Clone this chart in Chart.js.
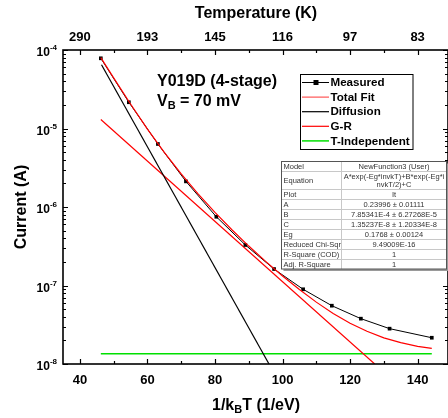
<!DOCTYPE html>
<html>
<head>
  <meta charset="UTF-8">
  <title>Y019D current vs 1/kT</title>
  <script src="https://cdn.jsdelivr.net/npm/chart.js"></script>
  <style>
    html, body {
      margin: 0;
      padding: 0;
      overflow: hidden;
      background: #fff;
    }
    #chart-container {
      position: relative;
      width: 452px;
      height: 418px;
    }
  </style>
</head>
<body>
  <div id="chart-container">
    <canvas id="myChart"></canvas>
  </div>
  <script>
    // valeurs (x = 1/kT en 1/eV, y = courant en A)
    const invKT = [46.2, 54.5, 63.1, 71.4, 80.4, 89.0, 97.5, 106.1, 114.6, 123.2, 131.7, 144.2];
    const measured = [7.84e-5, 2.16e-5, 6.35e-6, 2.12e-6, 7.51e-7, 3.28e-7, 1.62e-7, 8.95e-8, 5.53e-8, 3.78e-8, 2.82e-8, 2.16e-8];

    const fitX = [46.2, 50, 55, 60, 65, 70, 75, 80, 85, 90, 95, 100, 105, 110, 115, 120, 125, 130, 135, 140, 144.2];
    const totalFit = [8.0e-5, 4.42e-5, 2.05e-5, 9.84e-6, 4.96e-6, 2.64e-6, 1.47e-6, 8.53e-7, 5.13e-7, 3.18e-7, 2.03e-7,
                      1.32e-7, 8.87e-8, 6.14e-8, 4.41e-8, 3.31e-8, 2.61e-8, 2.15e-8, 1.87e-8, 1.68e-8, 1.58e-8];

    const diffX = [46.4, 96.0];
    const diffusion = [6.5e-5, 1.0e-8];
    const grX = [46.2, 127.3];
    const gr = [1.3e-5, 1.0e-8];
    const tIndX = [46.2, 144.2];
    const tInd = [1.35e-8, 1.35e-8];

    const xTicks = [40, 60, 80, 100, 120, 140];
    const xMinor = [50, 70, 90, 110, 130];
    const tempLabels = ['290', '193', '145', '116', '97', '83'];
    const yDecades = [-8, -7, -6, -5, -4];

    const tableRows = [
      ['Model', ['NewFunction3 (User)']],
      ['Equation', ['A*exp(-Eg*invkT)+B*exp(-Eg*i', 'nvkT/2)+C']],
      ['Plot', ['It']],
      ['A', ['0.23996 \u00b1 0.01111']],
      ['B', ['7.85341E-4 \u00b1 6.27268E-5']],
      ['C', ['1.35237E-8 \u00b1 1.20334E-8']],
      ['Eg', ['0.1768 \u00b1 0.00124']],
      ['Reduced Chi-Sqr', ['9.49009E-16']],
      ['R-Square (COD)', ['1']],
      ['Adj. R-Square', ['1']]
    ];

    const pts = (xs, ys) => xs.map((v, i) => ({ x: v, y: ys[i] }));
    const FONT = '"Liberation Sans", Arial, sans-serif';

    function texteSub(ctx, parts, x, y, align) {
      // parts: [texte, taille, decalage]
      let w = 0;
      parts.forEach(p => { ctx.font = 'bold ' + p[1] + 'px ' + FONT; w += ctx.measureText(p[0]).width; });
      let cx = align === 'center' ? x - w / 2 : (align === 'right' ? x - w : x);
      parts.forEach(p => {
        ctx.font = 'bold ' + p[1] + 'px ' + FONT;
        ctx.textAlign = 'left';
        ctx.fillText(p[0], cx, y + p[2]);
        cx += ctx.measureText(p[0]).width;
      });
    }

    const decor = {
      id: 'decor',
      afterDraw(chart) {
        const { ctx, chartArea: a, scales: { x, y } } = chart;
        ctx.save();
        ctx.strokeStyle = '#000';
        ctx.fillStyle = '#000';

        // cadre
        ctx.lineWidth = 1.6;
        ctx.strokeRect(a.left, a.top, a.right - a.left, a.bottom - a.top);

        // graduations x (haut et bas, vers l'intérieur)
        ctx.lineWidth = 1.2;
        ctx.beginPath();
        xTicks.forEach(v => {
          const px = Math.round(x.getPixelForValue(v)) + 0.5;
          ctx.moveTo(px, a.bottom); ctx.lineTo(px, a.bottom - 5);
          ctx.moveTo(px, a.top); ctx.lineTo(px, a.top + 5);
        });
        xMinor.forEach(v => {
          const px = Math.round(x.getPixelForValue(v)) + 0.5;
          ctx.moveTo(px, a.bottom); ctx.lineTo(px, a.bottom - 3);
          ctx.moveTo(px, a.top); ctx.lineTo(px, a.top + 3);
        });
        // graduations y (log)
        yDecades.forEach(e => {
          const py = Math.round(y.getPixelForValue(Math.pow(10, e))) + 0.5;
          ctx.moveTo(a.left, py); ctx.lineTo(a.left + 5, py);
          ctx.moveTo(a.right, py); ctx.lineTo(a.right - 5, py);
          if (e < -4) {
            for (let m = 2; m <= 9; m++) {
              const pm = Math.round(y.getPixelForValue(m * Math.pow(10, e))) + 0.5;
              ctx.moveTo(a.left, pm); ctx.lineTo(a.left + 3, pm);
              ctx.moveTo(a.right, pm); ctx.lineTo(a.right - 3, pm);
            }
          }
        });
        ctx.stroke();

        // étiquettes
        ctx.textBaseline = 'alphabetic';
        ctx.font = 'bold 13px ' + FONT;
        ctx.textAlign = 'center';
        xTicks.forEach((v, i) => {
          const px = x.getPixelForValue(v);
          ctx.fillText(String(v), px, a.bottom + 20);
          ctx.fillText(tempLabels[i], px, a.top - 9);
        });
        yDecades.forEach(e => {
          const py = y.getPixelForValue(Math.pow(10, e));
          texteSub(ctx, [['10', 12, 0], [String(e), 8, -6]], a.left - 6, py + 6, 'right');
        });

        // titres des axes
        texteSub(ctx, [['1/k', 16, 0], ['B', 11, 3], ['T (1/eV)', 16, 0]], (a.left + 449) / 2, 410, 'center');
        ctx.font = 'bold 16px ' + FONT;
        ctx.textAlign = 'center';
        ctx.fillText('Temperature (K)', (a.left + 449) / 2, 18);
        ctx.save();
        ctx.translate(26, (a.top + a.bottom) / 2);
        ctx.rotate(-Math.PI / 2);
        ctx.fillText('Current (A)', 0, 0);
        ctx.restore();

        // annotation
        ctx.textAlign = 'left';
        ctx.font = 'bold 16px ' + FONT;
        ctx.fillText('Y019D (4-stage)', 157, 86);
        texteSub(ctx, [['V', 16, 0], ['B', 11, 3], [' = 70 mV', 16, 0]], 157, 106, 'left');

        // légende
        const lg = { l: 300.5, t: 74.5, w: 112.5, h: 75 };
        ctx.fillStyle = '#fff';
        ctx.fillRect(lg.l, lg.t, lg.w, lg.h);
        ctx.lineWidth = 1;
        ctx.strokeStyle = '#000';
        ctx.strokeRect(lg.l, lg.t, lg.w, lg.h);
        chart.data.datasets.forEach((ds, i) => {
          const ly = 82.5 + i * 14.6;
          ctx.strokeStyle = ds.borderColor;
          ctx.lineWidth = ds.label === 'Total Fit' ? 0.8 : ds.borderWidth;
          ctx.beginPath();
          ctx.moveTo(302, ly); ctx.lineTo(329, ly);
          ctx.stroke();
          if (ds.pointRadius) {
            ctx.fillStyle = '#000';
            ctx.fillRect(313.5, ly - 2.5, 5, 5);
          }
          ctx.fillStyle = '#000';
          ctx.font = 'bold 11.6px ' + FONT;
          ctx.textAlign = 'left';
          ctx.textBaseline = 'middle';
          ctx.fillText(ds.label, 330.5, ly + 0.5);
        });

        // tableau des paramètres
        const tb = { l: 281.5, t: 161.5, c: 341.5, r: 446.5 };
        const hs = tableRows.map(r => r[1].length > 1 ? 18 : 10);
        const total = hs.reduce((s, h) => s + h, 0) - 0.5;
        ctx.fillStyle = '#9a9a9a';
        ctx.fillRect(tb.l + 2, tb.t + 2, tb.r - tb.l, total);
        ctx.fillStyle = '#fff';
        ctx.fillRect(tb.l, tb.t, tb.r - tb.l, total);
        ctx.strokeStyle = '#c8c8c8';
        ctx.lineWidth = 1;
        ctx.beginPath();
        let yy = tb.t;
        hs.forEach((h, i) => {
          if (i > 0) { ctx.moveTo(tb.l, yy); ctx.lineTo(tb.r, yy); }
          yy += h;
        });
        ctx.moveTo(tb.c, tb.t); ctx.lineTo(tb.c, tb.t + total);
        ctx.stroke();
        ctx.strokeStyle = '#555';
        ctx.strokeRect(tb.l, tb.t, tb.r - tb.l, total);
        ctx.fillStyle = '#333';
        ctx.font = '7.5px ' + FONT;
        ctx.textBaseline = 'middle';
        yy = tb.t;
        tableRows.forEach((row, i) => {
          const mid = yy + hs[i] / 2;
          ctx.textAlign = 'left';
          ctx.fillText(row[0], tb.l + 2, mid);
          ctx.textAlign = 'center';
          const n = row[1].length;
          row[1].forEach((s, k) => {
            ctx.fillText(s, (tb.c + tb.r) / 2, mid + (k - (n - 1) / 2) * 8);
          });
          yy += hs[i];
        });

        ctx.restore();
      }
    };

    const ctx = document.getElementById('myChart').getContext('2d');
    window.myChart = new Chart(ctx, {
      type: 'line',
      data: {
        datasets: [
          {
            label: 'Measured',
            data: pts(invKT, measured),
            borderColor: '#000',
            backgroundColor: '#000',
            borderWidth: 1,
            pointStyle: 'rect',
            pointRadius: 2.6,
            pointBorderWidth: 0,
            order: 2
          },
          {
            label: 'Total Fit',
            data: pts(fitX, totalFit),
            borderColor: '#ff0000',
            borderWidth: 1.2,
            pointRadius: 0,
            order: 1
          },
          {
            label: 'Diffusion',
            data: pts(diffX, diffusion),
            borderColor: '#000',
            borderWidth: 1.2,
            pointRadius: 0,
            order: 3
          },
          {
            label: 'G-R',
            data: pts(grX, gr),
            borderColor: '#ff0000',
            borderWidth: 1.2,
            pointRadius: 0,
            order: 4
          },
          {
            label: 'T-Independent',
            data: pts(tIndX, tInd),
            borderColor: '#00e000',
            borderWidth: 1.5,
            pointRadius: 0,
            order: 5
          }
        ]
      },
      options: {
        responsive: true,
        maintainAspectRatio: false,
        animation: false,
        layout: { padding: { left: 63, top: 50, right: 2.6, bottom: 54 } },
        scales: {
          x: { type: 'linear', min: 35, max: 149, display: false },
          y: { type: 'logarithmic', min: 1e-8, max: 1e-4, display: false }
        },
        plugins: {
          legend: { display: false },
          tooltip: { enabled: false }
        }
      },
      plugins: [decor]
    });
  </script>
</body>
</html>
